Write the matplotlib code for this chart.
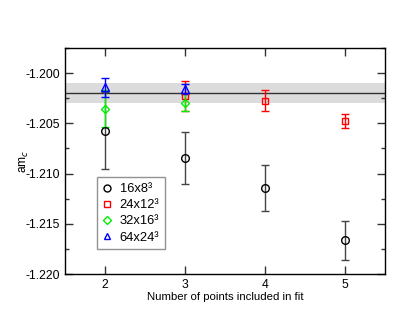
import matplotlib
matplotlib.use("Agg")
import matplotlib.pyplot as plt
from matplotlib.lines import Line2D
from matplotlib.ticker import MultipleLocator, FormatStrFormatter

plt.rcParams['font.family'] = ['Liberation Sans', 'DejaVu Sans']
plt.rcParams['axes.unicode_minus'] = False

# data
labels = ["16x8³", "24x12³", "32x16³", "64x24³"]
colors = ["black", "red", "#00ee00", "blue"]
markers = ["o", "s", "D", "^"]

n_16 = [2, 3, 4, 5]
am_16 = [-1.20573, -1.20843, -1.21143, -1.21663]
err_16 = [0.0038, 0.0026, 0.0023, 0.00195]

n_24 = [3, 4, 5]
am_24 = [-1.20227, -1.20277, -1.2048]
err_24 = [0.00147, 0.00105, 0.0007]

n_32 = [2, 3]
am_32 = [-1.20353, -1.20293]
err_32 = [0.0018, 0.00083]

n_64 = [2, 3]
am_64 = [-1.2014, -1.2016]
err_64 = [0.00095, 0.0005]

fit_value = -1.2020
fit_err = 0.001

series = [(n_16, am_16, err_16), (n_24, am_24, err_24),
          (n_32, am_32, err_32), (n_64, am_64, err_64)]

fig = plt.figure(figsize=(4.18, 3.23), dpi=100)
ax = fig.add_axes([0.1555, 0.1517, 0.7655, 0.6997])

ax.axhspan(fit_value - fit_err, fit_value + fit_err, color="#dcdcdc", lw=0, zorder=0)
ax.axhline(fit_value, color="#333333", lw=1.0, zorder=1)

msizes = [5.5, 5, 4.5, 5.5]
for (x, y, e), c, m, ms in zip(series, colors, markers, msizes):
    ecol = "#444444" if c == "black" else c
    ax.errorbar(x, y, yerr=e, fmt=m, color=c, ecolor=ecol, mfc="none",
                mec=c, ms=ms, mew=1.0, elinewidth=1.0, capsize=2.7, capthick=1.0,
                zorder=3)

ax.set_xlim(1.5, 5.5)
ax.set_ylim(-1.220, -1.1975)
ax.set_xticks([2, 3, 4, 5])
ax.yaxis.set_major_locator(MultipleLocator(0.005))
ax.yaxis.set_minor_locator(MultipleLocator(0.0025))
ax.yaxis.set_major_formatter(FormatStrFormatter("%.3f"))
ax.tick_params(which="both", direction="in", top=True, right=True,
               labelsize=8.7, width=1.0, color="#333333")
ax.tick_params(which="major", length=6)
ax.tick_params(which="minor", length=3)
for s in ax.spines.values():
    s.set_linewidth(1.0)

ax.set_xlabel("Number of points included in fit", fontsize=8.2, labelpad=1)
ax.set_ylabel("am$_c$", fontsize=8.7)
ax.yaxis.set_label_coords(-0.106, 0.5)

leg_ms = [5, 4.6, 4.2, 5]
handles = [Line2D([], [], ls="none", marker=m, color=c, mfc="none", ms=s, mew=1.0)
           for c, m, s in zip(colors, markers, leg_ms)]
leg = ax.legend(handles, labels, loc="upper left", bbox_to_anchor=(0.1, 0.428),
                fontsize=9.3, frameon=True, fancybox=False, edgecolor="#777777",
                handlelength=0.7, handletextpad=0.6, labelspacing=0.32,
                borderpad=0.45, borderaxespad=0)
leg.get_frame().set_linewidth(1.0)

fig.savefig("out.png", dpi=100)
